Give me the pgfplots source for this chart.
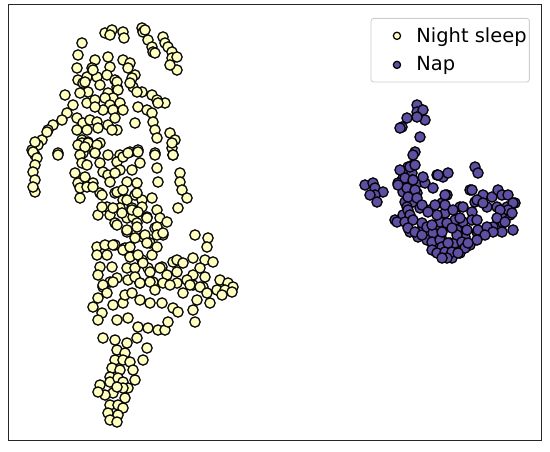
\documentclass[border=0pt]{standalone}
\usepackage{fontspec}
\setmainfont{DejaVu Sans}
\usepackage{pgfplots}
\pgfplotsset{compat=1.18}
\definecolor{nightyel}{HTML}{FFFFBF}
\definecolor{nappurp}{HTML}{5E4FA2}

\begin{document}
\begin{tikzpicture}
\begin{axis}[
  name=ax,
  scale only axis,
  width=383.76pt, height=313.92pt,
  xmin=8, xmax=541, ymin=4, ymax=440,
  y dir=reverse,
  xtick=\empty, ytick=\empty,
  axis line style={black!85, line width=0.6pt},
  legend style={at={(0.979,0.968)}, anchor=north east,
    draw=black!20, rounded corners=2pt, line width=0.6pt,
    font=\fontsize{14}{16}\selectfont,
    row sep=5pt, inner xsep=0pt, inner ysep=4.5pt},
  legend cell align=left,
  legend image code/.code={
    \path[draw=none] (0pt,0pt) -- (30.7pt,0pt);
    \draw[#1, mark size=2.6pt, line width=0.8pt] plot coordinates {(18.7pt,0pt)};
  },
]
\addplot[only marks, mark=*, mark size=3.7pt,
  mark options={fill=nightyel, draw=black, line width=0.9pt}] coordinates {
(105,33) (112,30) (110,35) (123,32) (124,38) (142,28) (143,32) (145,30)
(148,40) (152,47) (153,52) (155,53) (163,37) (165,43) (168,47) (172,52)
(172,58) (177,57) (177,70) (170,65) (82,43) (78,55)
(95,60) (108,57) (123,60) (130,63) (135,75) (128,68)
(77,68) (92,68) (110,67) (78,80) (87,77) (97,77) (107,75) (115,80) (83,83)
(88,92) (100,85) (117,87) (132,78) (133,87) (142,92) (152,95) (165,103) (157,100)
(93,70) (85,82) (117,82) (118,90) (108,93) (113,98) (130,83) (137,92)
(65,95) (80,93) (73,105) (87,103) (95,100) (105,98) (110,105) (120,103)
(113,110) (123,110) (138,107) (147,110) (152,113) (158,103) (103,110) (95,107)
(67,113) (62,120) (53,125) (48,130) (42,140) (38,145) (32,150) (35,155) (35,142) (47,132)
(77,118) (83,123) (90,120) (97,122) (77,130) (87,130) (98,128) (108,125)
(115,118) (117,130) (135,123) (153,122) (155,130) (157,138) (112,130)
(170,133) (175,140) (172,148) (173,155)
(82,140) (88,142) (92,147) (100,143)
(58,153) (82,143) (88,143) (83,153) (95,153) (108,155) (120,155) (130,152) (138,150) (155,153)
(33,152) (37,158) (35,165) (33,172) (35,180) (35,192) (33,187) (58,155)
(78,145) (85,147) (97,145) (80,155) (95,153) (82,163) (87,165) (100,163)
(75,173) (78,183) (85,177) (93,183) (103,172) (108,175) (110,182) (100,193) (80,198)
(80,188) (87,187) (93,187) (102,195) (115,193) (123,200) (135,195) (142,200)
(117,162) (123,157) (128,153) (138,152) (140,163) (132,170) (120,170) (115,173)
(127,182) (137,183) (117,192) (123,190) (137,193) (127,200) (152,198) (132,208)
(142,207) (120,208) (107,207) (110,215) (98,215) (115,223) (127,218) (133,217)
(147,217) (157,210) (160,218) (155,228)
(102,207) (113,208) (132,210) (122,213) (138,212) (147,218) (117,225) (127,232)
(137,223) (157,227) (163,235) (143,237) (150,243) (115,245) (125,248) (130,255)
(142,260) (152,255) (148,268) (162,267) (173,262)
(155,155) (157,168) (158,182) (172,143) (173,155) (180,173) (180,182) (182,190)
(187,198) (178,208)
(127,230) (137,227) (135,238) (145,235) (157,235) (163,233) (147,243) (157,247) (167,222)
(97,247) (105,245) (113,245) (97,255) (107,255) (123,250) (130,247) (130,257) (138,255)
(195,235) (208,238) (207,247)
(100,267) (112,267) (98,275) (127,268) (135,268) (143,263) (150,272) (160,268)
(167,275) (177,260) (183,263) (177,272) (193,258) (205,260) (213,262) (200,268)
(193,275) (205,277) (220,280) (228,283) (233,287) (117,278) (110,282) (103,287)
(128,280) (140,283) (135,277) (153,282) (163,283) (177,283) (187,280) (193,285) (203,287)
(103,285) (113,282) (107,293) (98,298) (93,307) (102,313) (98,320) (113,305)
(123,303) (125,295) (132,293) (140,283) (150,282) (155,290) (140,300) (150,303)
(162,303) (173,308) (178,312) (170,285) (183,293) (190,285) (200,287) (207,293)
(197,300) (193,310) (195,322) (210,303) (217,290) (225,290) (232,292) (222,295)
(117,320) (128,318) (138,327) (148,328) (158,330) (165,330) (168,322)
(103,338) (115,340) (127,343) (137,338) (147,348) (143,360) (117,350) (125,353)
(115,360) (123,360) (130,362) (133,370) (135,380) (112,368) (120,370) (110,377)
(100,385) (110,382) (118,378) (123,382) (128,388) (125,398) (113,393) (105,395)
(98,392) (110,405) (118,405) (123,408) (108,413) (118,415) (110,420) (117,422)
(123,388) (117,387)
};
\addlegendentry{Night sleep\hspace{2.2pt}}
\addplot[only marks, mark=*, mark size=3.7pt,
  mark options={fill=nappurp, draw=black, line width=0.9pt}] coordinates {
(417,105) (417,112) (423,110) (425,120) (417,117) (407,118) (402,127) (400,128)
(420,137) (415,152) (413,155) (475,167) (478,173) (437,175) (443,177) (448,173)
(365,185) (373,183) (375,188) (383,192) (375,195) (370,195) (377,202)
(408,167) (413,165) (405,172) (412,173) (403,178) (412,180) (398,183) (407,185)
(417,183) (425,183) (433,188) (403,192) (410,195) (417,193) (405,202) (413,202)
(400,170) (410,167) (415,165) (405,178) (413,180) (423,177) (398,185) (407,188)
(415,190) (438,175) (395,220) (403,215) (408,197) (407,207) (417,198) (420,208)
(430,210) (442,203) (447,195) (460,207) (470,190) (475,202) (487,207) (515,203)
(510,215) (503,223) (493,227) (487,230) (477,232) (463,222) (445,213) (437,225)
(447,225) (457,230) (465,237) (423,227) (410,232) (418,237) (427,240) (433,245)
(442,240) (450,243) (458,245) (450,252) (460,253) (452,258) (470,245) (502,213)
(497,207) (507,207)
(422,205) (408,210) (410,215) (397,222) (405,222) (413,220) (422,223) (408,228)
(415,232) (422,235) (427,227) (433,233) (432,242) (440,240) (442,247) (432,250)
(437,253) (445,252) (452,252) (455,243) (448,243) (457,235) (462,242) (465,248)
(458,253) (447,258) (442,258)
(435,205) (445,195) (445,205) (453,210) (455,220) (463,207) (472,212) (472,220)
(467,230) (478,230) (487,227) (472,190) (483,195) (477,200) (483,203) (492,197)
(498,190) (502,195) (508,195) (513,203) (508,210) (500,210) (497,218) (505,222)
(512,213) (513,230) (502,232) (493,232) (485,235) (477,240) (468,243) (440,222)
(432,225) (447,223) (452,228) (442,232) (437,215) (428,212) (460,218) (477,220)
};
\addlegendentry{Nap}
\end{axis}
\path ([shift={(-5.76pt,-7.92pt)}]ax.south west) rectangle ([shift={(6.48pt,2.88pt)}]ax.north east);
\end{tikzpicture}
\end{document}
